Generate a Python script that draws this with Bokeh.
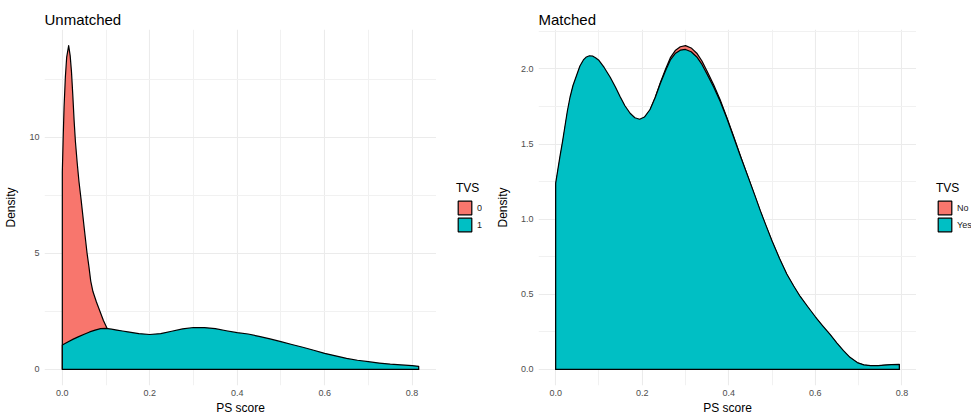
from bokeh.plotting import figure
from bokeh.layouts import row
from bokeh.models import Range1d, FixedTicker, Legend, LegendItem, NumeralTickFormatter
from bokeh.embed import file_html
from bokeh.resources import INLINE

FONT = "Liberation Sans"
RED = "#F8766D"
TEAL = "#00BFC4"

# ---------------- data: Unmatched panel ----------------
um_x_0 = [0.0, 0.002, 0.004, 0.007, 0.010, 0.0145, 0.018, 0.021, 0.024, 0.027, 0.030,
          0.034, 0.038, 0.043, 0.050, 0.0566, 0.061, 0.065, 0.070, 0.078, 0.086, 0.094,
          0.1025, 0.11, 0.12, 0.13, 0.15, 0.18, 0.25, 0.35, 0.5, 0.65, 0.815]
um_d_0 = [8.5, 10.0, 11.3, 12.6, 13.45, 13.94, 13.5, 12.8, 11.8, 10.7, 9.8,
          8.9, 8.1, 7.3, 6.1, 5.0, 4.4, 3.8, 3.35, 2.9, 2.5, 2.1,
          1.76, 1.45, 1.1, 0.85, 0.55, 0.35, 0.2, 0.12, 0.06, 0.03, 0.01]

um_x_1 = [0.0, 0.0125, 0.025, 0.0375, 0.05, 0.0625, 0.075, 0.0875, 0.1, 0.1125, 0.125,
          0.1375, 0.15, 0.175, 0.2, 0.225, 0.25, 0.275, 0.3, 0.325, 0.35, 0.375, 0.4,
          0.425, 0.45, 0.475, 0.5, 0.525, 0.55, 0.575, 0.6, 0.625, 0.65, 0.675, 0.7,
          0.725, 0.75, 0.775, 0.8, 0.815]
um_d_1 = [1.05, 1.18, 1.30, 1.41, 1.51, 1.61, 1.69, 1.75, 1.76, 1.73, 1.69,
          1.65, 1.61, 1.54, 1.50, 1.54, 1.64, 1.74, 1.80, 1.80, 1.75, 1.66, 1.58,
          1.52, 1.42, 1.31, 1.19, 1.07, 0.95, 0.82, 0.69, 0.58, 0.47, 0.39, 0.33,
          0.27, 0.22, 0.19, 0.16, 0.13]

# ---------------- data: Matched panel ----------------
m_x = [0.0, 0.005, 0.01, 0.016, 0.0215, 0.027, 0.033, 0.040, 0.0486, 0.056, 0.064,
       0.071, 0.078, 0.086, 0.092, 0.099, 0.112, 0.126, 0.138, 0.149, 0.16, 0.172,
       0.183, 0.194, 0.205, 0.218, 0.23, 0.242, 0.254, 0.265, 0.277, 0.288, 0.30,
       0.313, 0.326, 0.338, 0.349, 0.365, 0.38, 0.395, 0.41, 0.428, 0.446, 0.46,
       0.473, 0.487, 0.50, 0.517, 0.534, 0.55, 0.565, 0.583, 0.60, 0.617, 0.634,
       0.65, 0.665, 0.68, 0.697, 0.712, 0.728, 0.745, 0.759, 0.776, 0.794]
m_d_no = [1.22, 1.31, 1.40, 1.50, 1.60, 1.70, 1.79, 1.88, 1.95, 2.01, 2.05,
          2.07, 2.078, 2.075, 2.065, 2.05, 2.0, 1.935, 1.87, 1.805, 1.745, 1.695,
          1.665, 1.655, 1.672, 1.725, 1.81, 1.91, 2.0, 2.075, 2.125, 2.148, 2.155,
          2.14, 2.105, 2.053, 1.99, 1.895, 1.795, 1.68, 1.56, 1.41, 1.268, 1.155,
          1.05, 0.945, 0.85, 0.735, 0.63, 0.55, 0.48, 0.41, 0.345, 0.285, 0.228,
          0.17, 0.12, 0.076, 0.042, 0.028, 0.022, 0.023, 0.026, 0.029, 0.031]
m_d_yes = [1.24, 1.33, 1.42, 1.52, 1.62, 1.72, 1.81, 1.89, 1.96, 2.02, 2.06,
           2.08, 2.088, 2.085, 2.075, 2.06, 2.01, 1.945, 1.88, 1.815, 1.755, 1.705,
           1.675, 1.665, 1.68, 1.73, 1.81, 1.905, 1.99, 2.06, 2.105, 2.125, 2.13,
           2.115, 2.08, 2.03, 1.97, 1.88, 1.785, 1.675, 1.555, 1.41, 1.27, 1.16,
           1.055, 0.95, 0.855, 0.74, 0.635, 0.555, 0.485, 0.415, 0.35, 0.29, 0.232,
           0.175, 0.125, 0.08, 0.045, 0.03, 0.024, 0.025, 0.028, 0.031, 0.033]

# ---------------- ticks ----------------
x_ticks = [0.0, 0.2, 0.4, 0.6, 0.8]
x_labels = ["0.0", "0.2", "0.4", "0.6", "0.8"]
x_minor = [0.1, 0.3, 0.5, 0.7]
um_y_ticks = [0, 5, 10]
um_y_labels = ["0", "5", "10"]
um_y_minor = [2.5, 7.5, 12.5]
m_y_ticks = [0.0, 0.5, 1.0, 1.5, 2.0]
m_y_labels = ["0.0", "0.5", "1.0", "1.5", "2.0"]
m_y_minor = [0.25, 0.75, 1.25, 1.75, 2.25]

legend_title = "TVS"
um_groups = ["0", "1"]
m_groups = ["No", "Yes"]

FRAME_H = 356
TOP = 29
BOTTOM = 30


def expand(lo, hi, f=0.05):
    d = (hi - lo) * f
    return lo - d, hi + d


def panel(title, curves, xt, xl, xm, yt, yl, ym, yfmt, frame_w, b_left):
    xs_all = [v for c in curves for v in c[0]]
    ys_all = [v for c in curves for v in c[1]] + [0]
    x0, x1 = expand(min(xs_all), max(xs_all))
    y0, y1 = expand(min(ys_all), max(ys_all))
    p = figure(frame_width=frame_w, frame_height=FRAME_H,
               x_range=Range1d(x0, x1), y_range=Range1d(y0, y1),
               output_backend="svg", toolbar_location=None,
               min_border_left=b_left, min_border_right=0,
               min_border_top=TOP, min_border_bottom=BOTTOM,
               background_fill_color="white", border_fill_color="white",
               outline_line_color=None)
    p.title.text = title
    p.title.text_font = FONT
    p.title.text_font_size = "15px"
    p.title.text_font_style = "normal"
    p.title.text_color = "black"
    p.title.standoff = 4
    p.title.offset = 0

    for (xs, ds), col in zip(curves, [RED, TEAL]):
        px = [xs[0]] + list(xs) + [xs[-1]]
        py = [0] + list(ds) + [0]
        p.patch(px, py, fill_color=col, line_color="black", line_width=1.2,
                line_join="round")

    xtick = FixedTicker(ticks=xt, minor_ticks=xm)
    ytick = FixedTicker(ticks=yt, minor_ticks=ym)
    p.xaxis.ticker = xtick
    p.yaxis.ticker = ytick
    p.xgrid.ticker = xtick
    p.ygrid.ticker = ytick
    p.xaxis.formatter = NumeralTickFormatter(format="0.0")
    p.yaxis.formatter = NumeralTickFormatter(format=yfmt)
    p.xaxis.major_label_overrides = {v: s for v, s in zip(xt, xl)}
    p.yaxis.major_label_overrides = {v: s for v, s in zip(yt, yl)}
    for g in (p.xgrid, p.ygrid):
        g.grid_line_color = "#EBEBEB"
        g.grid_line_width = 1.1
        g.minor_grid_line_color = "#F1F1F1"
        g.minor_grid_line_width = 1
    for ax in (p.xaxis[0], p.yaxis[0]):
        ax.axis_line_color = None
        ax.major_tick_line_color = None
        ax.minor_tick_line_color = None
        ax.major_tick_out = 0
        ax.major_tick_in = 0
        ax.minor_tick_out = 0
        ax.minor_tick_in = 0
        ax.major_label_text_font = FONT
        ax.major_label_text_font_size = "9px"
        ax.major_label_text_color = "#4D4D4D"
        ax.axis_label_text_font = FONT
        ax.axis_label_text_font_size = "12px"
        ax.axis_label_text_font_style = "normal"
        ax.axis_label_text_color = "black"
    p.xaxis.axis_label = "PS score"
    p.yaxis.axis_label = "Density"
    p.xaxis.major_label_standoff = 4
    p.xaxis.axis_label_standoff = 2
    p.yaxis.major_label_standoff = 5
    p.yaxis.axis_label_standoff = 8
    return p


def legend_fig(groups, width):
    # narrow companion figure holding the fill guide, placed right of a panel
    lg = figure(frame_width=width, frame_height=FRAME_H, x_axis_type=None, y_axis_type=None,
                x_range=Range1d(0, 1), y_range=Range1d(0, 1),
                output_backend="svg", toolbar_location=None,
                min_border_left=0, min_border_right=0,
                min_border_top=TOP, min_border_bottom=BOTTOM,
                background_fill_color="white", border_fill_color="white",
                outline_line_color=None)
    lg.xgrid.visible = False
    lg.ygrid.visible = False
    items = []
    for g, col in zip(groups, [RED, TEAL]):
        # key swatch renderer; its geometry lies outside the visible range
        r = lg.patch([5, 6, 6], [5, 5, 6], fill_color=col, line_color="black", line_width=1.2)
        items.append(LegendItem(label=g, renderers=[r]))
    legend = Legend(items=items, location="center_left", margin=20, padding=0, spacing=0,
                    glyph_width=17, glyph_height=17, label_standoff=4, label_width=5,
                    label_height=17,
                    title=legend_title, title_text_font=FONT, title_text_font_size="12px",
                    title_text_font_style="normal", title_text_color="black", title_standoff=4,
                    label_text_font=FONT, label_text_font_size="9px",
                    label_text_color="#1A1A1A",
                    background_fill_alpha=0, border_line_alpha=0)
    lg.add_layout(legend, "center")
    return lg


p1 = panel("Unmatched", [(um_x_0, um_d_0), (um_x_1, um_d_1)],
           x_ticks, x_labels, x_minor, um_y_ticks, um_y_labels, um_y_minor, "0",
           392, 44)
l1 = legend_fig(um_groups, 46)
p2 = panel("Matched", [(m_x, m_d_no), (m_x, m_d_yes)],
           x_ticks, x_labels, x_minor, m_y_ticks, m_y_labels, m_y_minor, "0.0",
           378, 56)
l2 = legend_fig(m_groups, 55)

layout = row(p1, l1, p2, l2, spacing=0)
open("out.html", "w").write(file_html(layout, INLINE))
